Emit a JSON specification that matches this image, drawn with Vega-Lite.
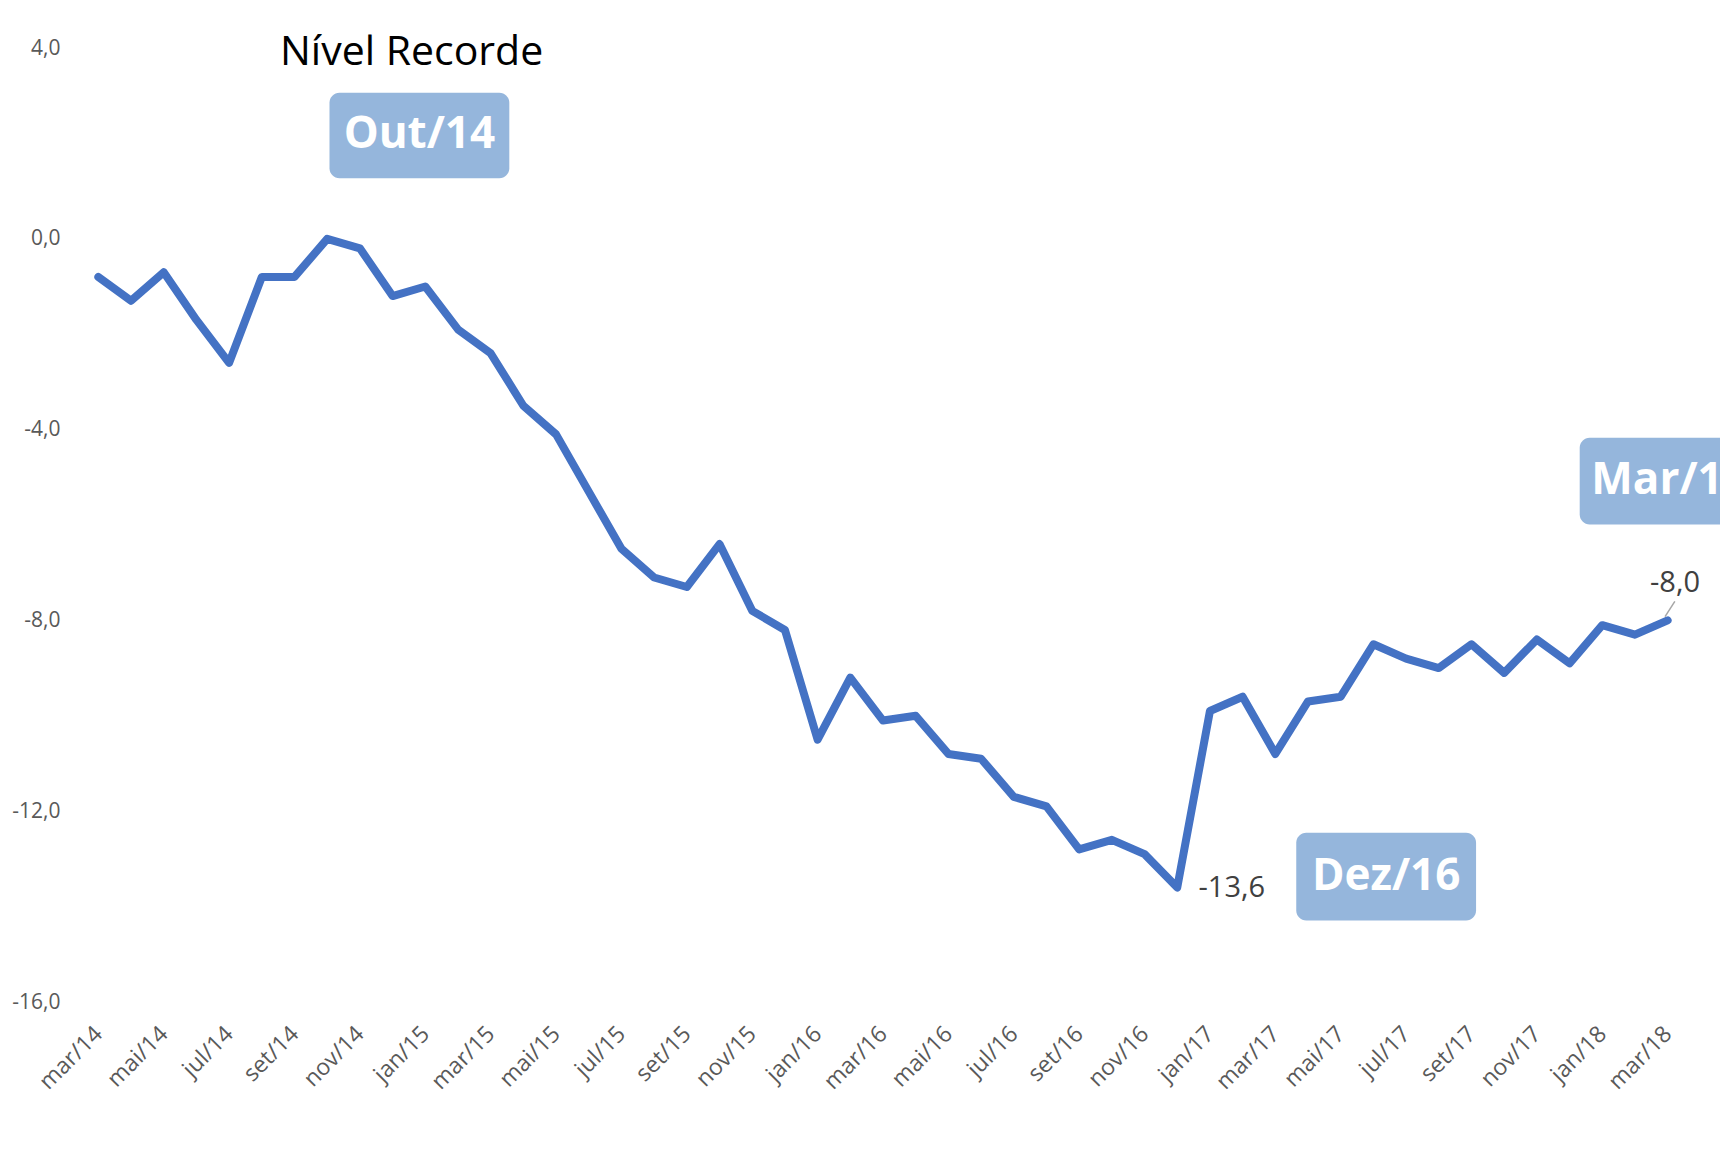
{
  "$schema": "https://vega.github.io/schema/vega-lite/v6.json",
  "autosize": "none",
  "width": 1602,
  "height": 954,
  "padding": {"left": 82, "top": 48, "right": 36, "bottom": 148},
  "background": "white",
  "config": {
    "view": {"stroke": null},
    "font": "Open Sans",
    "axis": {"grid": false, "domain": false, "ticks": false, "title": null, "labelFont": "Open Sans", "labelColor": "#595959", "labelFontSize": 21}
  },
  "datasets": {
    "serie": [
      {"mes": "mar/14", "v": -0.8}, {"mes": "abr/14", "v": -1.3}, {"mes": "mai/14", "v": -0.7}, {"mes": "jun/14", "v": -1.7},
      {"mes": "jul/14", "v": -2.6}, {"mes": "ago/14", "v": -0.8}, {"mes": "set/14", "v": -0.8}, {"mes": "out/14", "v": 0.0},
      {"mes": "nov/14", "v": -0.2}, {"mes": "dez/14", "v": -1.2}, {"mes": "jan/15", "v": -1.0}, {"mes": "fev/15", "v": -1.9},
      {"mes": "mar/15", "v": -2.4}, {"mes": "abr/15", "v": -3.5}, {"mes": "mai/15", "v": -4.1}, {"mes": "jun/15", "v": -5.3},
      {"mes": "jul/15", "v": -6.5}, {"mes": "ago/15", "v": -7.1}, {"mes": "set/15", "v": -7.3}, {"mes": "out/15", "v": -6.4},
      {"mes": "nov/15", "v": -7.8}, {"mes": "dez/15", "v": -8.2}, {"mes": "jan/16", "v": -10.5}, {"mes": "fev/16", "v": -9.2},
      {"mes": "mar/16", "v": -10.1}, {"mes": "abr/16", "v": -10.0}, {"mes": "mai/16", "v": -10.8}, {"mes": "jun/16", "v": -10.9},
      {"mes": "jul/16", "v": -11.7}, {"mes": "ago/16", "v": -11.9}, {"mes": "set/16", "v": -12.8}, {"mes": "out/16", "v": -12.6},
      {"mes": "nov/16", "v": -12.9}, {"mes": "dez/16", "v": -13.6}, {"mes": "jan/17", "v": -9.9}, {"mes": "fev/17", "v": -9.6},
      {"mes": "mar/17", "v": -10.8}, {"mes": "abr/17", "v": -9.7}, {"mes": "mai/17", "v": -9.6}, {"mes": "jun/17", "v": -8.5},
      {"mes": "jul/17", "v": -8.8}, {"mes": "ago/17", "v": -9.0}, {"mes": "set/17", "v": -8.5}, {"mes": "out/17", "v": -9.1},
      {"mes": "nov/17", "v": -8.4}, {"mes": "dez/17", "v": -8.9}, {"mes": "jan/18", "v": -8.1}, {"mes": "fev/18", "v": -8.3},
      {"mes": "mar/18", "v": -8.0}
    ],
    "caixas": [
      {"rotulo": "Out/14", "x": 7.07, "x2": 12.57, "y": 3.06, "y2": 1.27, "xc": 9.82, "yc": 2.17},
      {"rotulo": "Dez/16", "x": 36.64, "x2": 42.14, "y": -12.45, "y2": -14.29, "xc": 39.39, "yc": -13.37},
      {"rotulo": "Mar/18", "x": 45.31, "x2": 50.81, "y": -4.17, "y2": -5.99, "xc": 48.06, "yc": -5.08}
    ],
    "titulo": [{"t": "Nível Recorde", "x": 9.58, "y": 3.9}],
    "valores": [
      {"t": "-13,6", "x": 33.65, "y": -13.6},
      {"t": "-8,0", "x": 47.46, "y": -7.21}
    ],
    "guia": [{"x": 47.92, "x2": 48.22, "y": -7.92, "y2": -7.6}]
  },
  "resolve": {"scale": {"x": "independent"}, "axis": {"x": "independent"}},
  "layer": [
    {
      "mark": {"type": "rule", "color": "#d9d9d9", "strokeWidth": 2},
      "encoding": {"y": {"datum": 0, "type": "quantitative", "scale": {"domain": [-16, 4], "nice": false, "zero": false}, "title": null}}
    },
    {
      "data": {"name": "serie"},
      "mark": {"type": "line", "color": "#4472c4", "strokeWidth": 8, "strokeJoin": "round", "strokeCap": "round"},
      "encoding": {
        "x": {
          "field": "mes", "type": "ordinal", "sort": null,
          "scale": {"type": "point", "padding": 0.5},
          "axis": {
            "values": ["mar/14","mai/14","jul/14","set/14","nov/14","jan/15","mar/15","mai/15","jul/15","set/15","nov/15","jan/16","mar/16","mai/16","jul/16","set/16","nov/16","jan/17","mar/17","mai/17","jul/17","set/17","nov/17","jan/18","mar/18"],
            "labelAngle": -45, "labelPadding": 28, "labelFontSize": 23, "labelBaseline": "middle"
          }
        },
        "y": {
          "field": "v", "type": "quantitative",
          "scale": {"domain": [-16, 4], "nice": false, "zero": false},
          "title": null,
          "axis": {"values": [4, 0, -4, -8, -12, -16], "labelPadding": 22, "labelExpr": "(datum.value < 0 ? '-' : '') + replace(format(abs(datum.value), '.1f'), '.', ',')"}
        }
      }
    },
    {
      "data": {"name": "guia"},
      "mark": {"type": "rule", "color": "#a6a6a6", "strokeWidth": 1.5},
      "encoding": {
        "x": {"field": "x", "type": "quantitative", "scale": {"domain": [-0.5, 48.5], "nice": false, "zero": false}, "axis": null},
        "x2": {"field": "x2"},
        "y": {"field": "y", "type": "quantitative", "title": null},
        "y2": {"field": "y2"}
      }
    },
    {
      "data": {"name": "caixas"},
      "mark": {"type": "rect", "color": "#95b6dc", "cornerRadius": 10},
      "encoding": {
        "x": {"field": "x", "type": "quantitative", "scale": {"domain": [-0.5, 48.5], "nice": false, "zero": false}, "axis": null},
        "x2": {"field": "x2"},
        "y": {"field": "y", "type": "quantitative", "title": null},
        "y2": {"field": "y2"}
      }
    },
    {
      "data": {"name": "caixas"},
      "mark": {"type": "text", "color": "white", "fontSize": 44, "fontWeight": "bold", "font": "Open Sans", "align": "center", "baseline": "middle"},
      "encoding": {
        "x": {"field": "xc", "type": "quantitative", "scale": {"domain": [-0.5, 48.5], "nice": false, "zero": false}, "axis": null},
        "y": {"field": "yc", "type": "quantitative", "title": null},
        "text": {"field": "rotulo"}
      }
    },
    {
      "data": {"name": "titulo"},
      "mark": {"type": "text", "color": "black", "fontSize": 41, "font": "Open Sans", "align": "center", "baseline": "middle"},
      "encoding": {
        "x": {"field": "x", "type": "quantitative", "scale": {"domain": [-0.5, 48.5], "nice": false, "zero": false}, "axis": null},
        "y": {"field": "y", "type": "quantitative", "title": null},
        "text": {"field": "t"}
      }
    },
    {
      "data": {"name": "valores"},
      "mark": {"type": "text", "color": "#404040", "fontSize": 29, "font": "Open Sans", "align": "left", "baseline": "middle"},
      "encoding": {
        "x": {"field": "x", "type": "quantitative", "scale": {"domain": [-0.5, 48.5], "nice": false, "zero": false}, "axis": null},
        "y": {"field": "y", "type": "quantitative", "title": null},
        "text": {"field": "t"}
      }
    }
  ]
}
